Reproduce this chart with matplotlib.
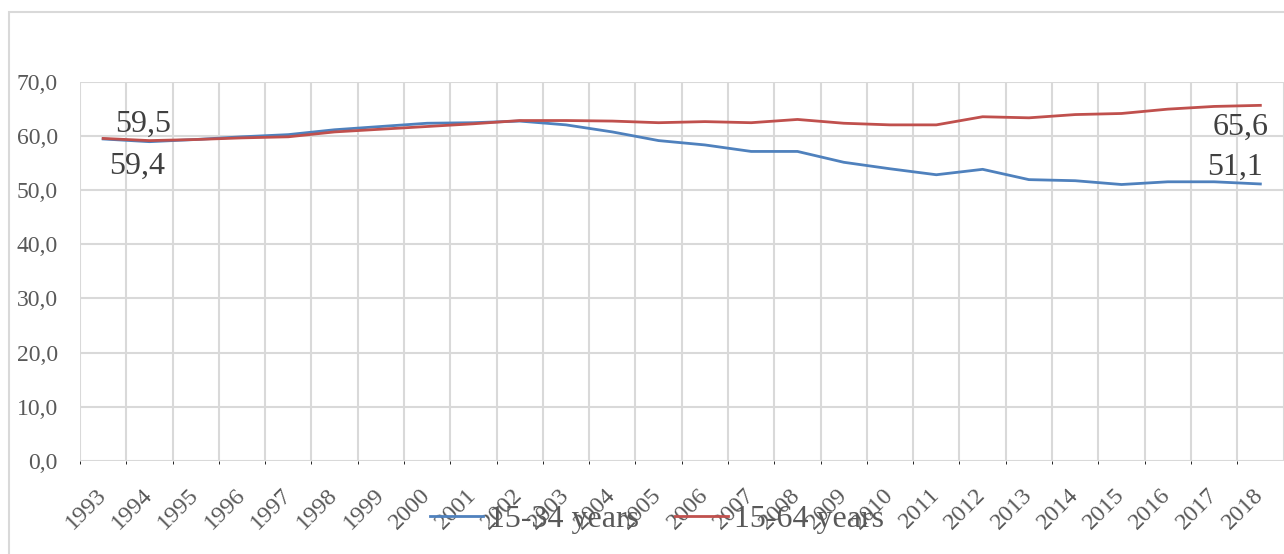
import numpy as np
import matplotlib.pyplot as plt
from matplotlib.patches import Rectangle

plt.rcParams['font.family'] = ['Liberation Serif', 'DejaVu Serif']

years = [str(y) for y in range(1993, 2019)]
youth = [59.4, 58.9, 59.3, 59.8, 60.2, 61.1, 61.7, 62.3, 62.4, 62.7,
         62.0, 60.7, 59.1, 58.3, 57.1, 57.1, 55.1, 53.9, 52.8, 53.8,
         51.9, 51.7, 51.0, 51.5, 51.5, 51.1]
working = [59.5, 59.1, 59.3, 59.6, 59.8, 60.7, 61.2, 61.7, 62.2, 62.8,
           62.8, 62.7, 62.4, 62.6, 62.4, 63.0, 62.3, 62.0, 62.0, 63.5,
           63.3, 63.9, 64.1, 64.9, 65.4, 65.6]
yticks = np.arange(0, 71, 10)

blue = '#4f81bd'
red = '#c0504d'
grey_txt = '#595959'
grid = '#d9d9d9'

W, H = 1284, 554
fig = plt.figure(figsize=(W / 100, H / 100), dpi=100)
ax = fig.add_axes([80 / W, 1 - 461 / H, (1283.5 - 80) / W, (461 - 81.5) / H])

x = np.arange(len(years))
ax.plot(x, youth, color=blue, lw=2.0, solid_joinstyle='round', label='15-34 years', zorder=3)
ax.plot(x, working, color=red, lw=2.0, solid_joinstyle='round', label='15-64 years', zorder=3)

ax.set_xlim(-0.5, len(years) - 0.5)
ax.set_ylim(0, 70)
ax.set_yticks(yticks)
ax.set_yticklabels([f'{v:.1f}'.replace('.', ',') for v in yticks],
                   fontsize=17, color=grey_txt)
ax.set_xticks(x)
ax.set_xticklabels(years, rotation=45, ha='right', va='center',
                   rotation_mode='anchor', fontsize=17.5, color=grey_txt)
ax.tick_params(axis='x', length=0, pad=22)
ax.tick_params(axis='y', length=0, pad=16)

# category boundaries as vertical grid, values as horizontal grid
ax.set_xticks(np.arange(-0.5, len(years)), minor=True)
ax.grid(which='minor', axis='x', color=grid, lw=1.5)
ax.grid(which='major', axis='y', color=grid, lw=1.5)
ax.set_axisbelow(True)
for s in ax.spines.values():
    s.set_visible(False)

def lab(v):
    return f'{v:.1f}'.replace('.', ',')

kw = dict(textcoords='offset pixels', ha='center', va='center',
          fontsize=23, color='#404040')
ax.annotate(lab(working[0]), (0, working[0]), xytext=(40, 14), **kw)
ax.annotate(lab(youth[0]), (0, youth[0]), xytext=(34, -27), **kw)
ax.annotate(lab(working[-1]), (x[-1], working[-1]), xytext=(-20, -22), **kw)
ax.annotate(lab(youth[-1]), (x[-1], youth[-1]), xytext=(-25, 17), **kw)

fig.legend(loc='center', bbox_to_anchor=(657 / W, 1 - 519 / H), ncol=2,
           frameon=False, fontsize=23, labelcolor=grey_txt,
           handlelength=1.66, handletextpad=0.2, columnspacing=1.1)

# outer chart frame
fig.add_artist(Rectangle((9 / W, -0.5), 2, 1.5 - 12 / H, transform=fig.transFigure,
                         fill=False, edgecolor=grid, lw=1.5))

fig.savefig('out.png', dpi=100)
